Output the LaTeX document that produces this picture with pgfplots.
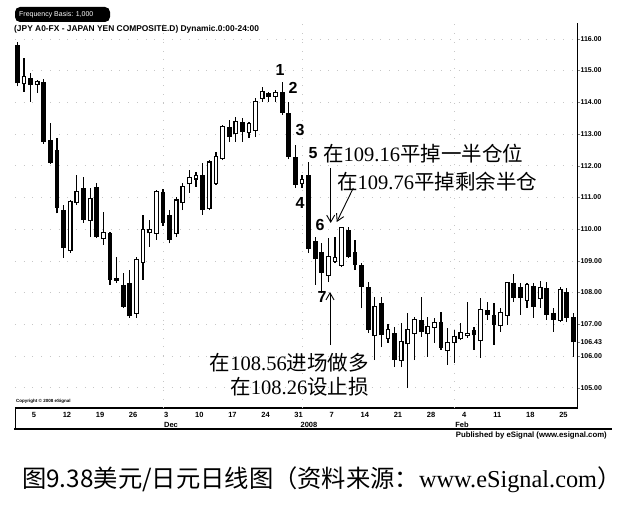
\documentclass[border=0pt]{standalone}
\usepackage{pgfplots}
\pgfplotsset{compat=1.18}
\usepackage{pgfplotstable}
\usepackage{fontspec}
\usetikzlibrary{arrows.meta}
\setmainfont{Liberation Serif}
\setsansfont{Liberation Sans}
\newfontfamily\cjk{Noto Sans CJK SC}

% daily USD/JPY candles, k = trading day (0 = 1 Nov 2007)
\pgfplotstableread{
k o h l c
0 115.80 115.90 114.50 114.60
1 114.60 115.40 114.33 114.80
2 114.77 114.93 114.01 114.55
3 114.58 114.70 114.30 114.64
4 114.64 114.74 112.70 112.75
5 112.81 113.35 112.06 112.09
6 112.50 112.88 110.50 110.67
7 110.60 110.76 109.09 109.40
8 109.34 110.92 109.25 110.86
9 110.86 111.71 110.76 111.17
10 111.30 111.65 110.20 110.29
11 110.29 111.30 109.75 110.95
12 111.33 111.46 109.72 109.75
13 109.72 110.54 109.50 109.88
14 109.88 109.90 108.24 108.40
15 108.45 109.12 108.30 108.38
16 108.24 108.62 107.51 107.55
17 108.30 108.70 107.20 107.25
18 107.36 109.12 107.20 109.03
19 108.97 110.45 108.40 109.97
20 109.90 110.30 109.45 109.98
21 109.88 111.23 109.66 111.17
22 111.17 111.25 110.10 110.20
23 110.45 110.60 109.55 109.66
24 109.88 111.00 109.75 110.90
25 110.86 111.46 110.60 111.33
26 111.45 111.87 111.14 111.62
27 111.60 111.80 111.33 111.67
28 111.70 112.10 110.45 110.60
29 110.67 112.18 110.60 112.10
30 111.46 112.44 111.40 112.28
31 112.25 113.29 112.18 113.22
32 113.22 113.44 112.75 112.90
33 113.03 113.54 112.75 113.38
34 113.38 113.50 112.75 113.06
35 113.06 113.38 112.88 113.32
36 113.13 114.14 112.90 114.01
37 114.14 114.49 114.01 114.33
38 114.30 114.33 114.01 114.17
39 114.20 114.39 114.01 114.30
40 114.33 114.64 113.60 113.67
41 113.67 114.00 112.20 112.28
42 112.28 112.65 111.30 111.40
43 111.45 111.70 111.30 111.55
44 111.70 112.12 109.25 109.38
45 109.63 109.75 108.24 109.05
46 109.28 109.56 107.99 108.62
47 108.56 109.72 108.33 109.12
48 109.00 109.75 108.93 109.09
49 108.87 110.07 108.80 110.03
50 109.97 110.07 109.10 109.12
51 109.28 109.66 108.71 108.87
52 108.87 108.93 107.50 108.18
53 108.18 108.33 106.73 106.82
54 106.66 107.86 105.87 107.55
55 107.67 107.86 106.28 106.66
56 106.57 107.00 106.41 106.82
57 106.73 106.92 105.65 105.87
58 105.87 107.04 105.65 106.44
59 106.41 107.36 104.99 106.82
60 106.73 107.23 105.87 107.14
61 107.14 107.86 106.60 106.76
62 106.73 107.23 105.97 106.92
63 106.92 107.20 106.41 107.05
64 107.07 107.39 106.19 106.25
65 106.19 106.88 105.72 106.41
66 106.44 106.82 105.78 106.60
67 106.57 107.04 106.50 106.73
68 106.65 107.70 106.57 106.70
69 106.82 106.92 106.19 106.65
70 106.50 107.83 105.94 107.45
71 107.45 107.70 107.14 107.30
72 107.30 107.67 106.35 106.98
73 106.98 107.52 106.76 107.36
74 107.30 108.33 106.98 108.30
75 108.30 108.59 107.70 107.83
76 108.18 108.30 107.30 107.83
77 107.77 108.30 107.52 108.24
78 108.20 108.30 107.20 107.55
79 107.83 108.37 107.52 108.15
80 108.15 108.33 107.14 107.30
81 107.36 107.52 106.76 107.14
82 107.14 108.18 107.07 108.08
83 108.02 108.15 107.07 107.20
84 107.23 107.36 105.97 106.43
}\candles

\begin{document}
\begin{tikzpicture}
\useasboundingbox (0pt,0pt) rectangle (630pt,507pt);

% header
\fill[black, rounded corners=5pt] (15pt,485pt) rectangle (110pt,500pt);
\node[anchor=west, text=white, font=\sffamily\fontsize{7}{7}\selectfont, inner sep=0] at (19pt,492pt) {Frequency Basis: 1,000};
\node[anchor=west, font=\sffamily\bfseries\fontsize{8.4}{8.4}\selectfont, inner sep=0] at (14pt,478pt) {(JPY A0-FX - JAPAN YEN COMPOSITE.D) Dynamic.0:00-24:00};

\begin{axis}[
    at={(15pt,99pt)}, anchor=south west,
    scale only axis, width=563pt, height=385pt,
    xmin=-0.35, xmax=84.7, ymin=104.36, ymax=116.5,
    axis x line*=bottom, axis y line*=right,
    axis line style={-},
    x axis line style={line width=1.8pt},
    y axis line style={line width=1pt},
    xtick={2.5,7.5,...,82.5},
    xticklabels={5,12,19,26,3,10,17,24,31,7,14,21,28,4,11,18,25},
    x tick label style={font=\sffamily\bfseries\fontsize{7.5}{7.5}\selectfont, yshift=1pt},
    x tick style={draw=none},
    extra x ticks={22,43,66},
    extra x tick labels={},
    extra x tick style={grid=major, major tick length=0pt},
    ytick={105,106,...,116},
    extra y ticks={106.43},
    extra y tick style={grid=none},
    ymajorgrids=true,
    grid style={gray!45, line width=0.5pt, dash pattern=on 0.7pt off 8pt},
    y tick label style={font=\sffamily\bfseries\fontsize{7}{7}\selectfont, anchor=west, xshift=-3pt},
    /pgf/number format/.cd, fixed, fixed zerofill, precision=2, assume math mode=true,
    /pgfplots/.cd,
    tick align=outside, major tick length=2pt,
    clip=false,
]
% wicks
\addplot[draw=none, mark=none,
    error bars/.cd, y dir=plus, y explicit, error mark=none,
    error bar style={draw=black, line width=1.2pt}]
    table[x=k, y=l, y error expr=\thisrow{h}-\thisrow{l}] {\candles};
% falling bodies
\addplot[draw=none, mark=none,
    restrict expr to domain={\thisrow{c}-\thisrow{o}}{-100:-0.00001},
    error bars/.cd, y dir=plus, y explicit, error mark=none,
    error bar style={draw=black, line width=4.8pt}]
    table[x=k, y=c, y error expr=\thisrow{o}-\thisrow{c}] {\candles};
% rising bodies: outline then white fill
\addplot[draw=none, mark=none,
    restrict expr to domain={\thisrow{c}-\thisrow{o}}{0:100},
    error bars/.cd, y dir=plus, y explicit, error mark=none,
    error bar style={draw=black, line width=4.8pt}]
    table[x=k, y expr=\thisrow{o}-0.035, y error expr=\thisrow{c}-\thisrow{o}+0.07] {\candles};
\addplot[draw=none, mark=none,
    restrict expr to domain={\thisrow{c}-\thisrow{o}}{0:100},
    error bars/.cd, y dir=plus, y explicit, error mark=none,
    error bar style={draw=white, line width=2.4pt}]
    table[x=k, y=o, y error expr=\thisrow{c}-\thisrow{o}] {\candles};
\end{axis}

% date box
\draw[line width=1.6pt] (14pt,78pt) -- (612pt,78pt);
\draw[line width=0.8pt] (15pt,78pt) -- (15pt,99pt);
\node[font=\sffamily\bfseries\fontsize{7.5}{7.5}\selectfont, inner sep=0] at (171pt,82pt) {Dec};
\node[font=\sffamily\bfseries\fontsize{7.5}{7.5}\selectfont, inner sep=0] at (309pt,82pt) {2008};
\node[font=\sffamily\bfseries\fontsize{7.5}{7.5}\selectfont, inner sep=0] at (462pt,82pt) {Feb};
\node[anchor=west, font=\sffamily\bfseries\fontsize{4.5}{4.5}\selectfont, inner sep=0] at (16pt,106pt) {Copyright \textcopyright{} 2008 eSignal};
\node[anchor=east, font=\sffamily\bfseries\fontsize{7.8}{7.8}\selectfont, inner sep=0] at (607pt,71pt) {Published by eSignal (www.esignal.com)};

% wave labels
\begin{scope}[font=\sffamily\bfseries\fontsize{16}{16}\selectfont, inner sep=0]
\node at (280pt,437pt) {1};
\node at (293pt,419pt) {2};
\node at (300pt,377pt) {3};
\node at (300pt,304pt) {4};
\node at (313pt,354pt) {5};
\node at (320pt,282pt) {6};
\node at (322pt,210pt) {7};
\end{scope}

% trade notes
\begin{scope}[font=\fontsize{20.5}{20.5}\selectfont, inner sep=0]
\node[anchor=west] at (323pt,353pt) {{\cjk 在}109.16{\cjk 平掉一半仓位}};
\node[anchor=west] at (337pt,325pt) {{\cjk 在}109.76{\cjk 平掉剩余半仓}};
\node[anchor=east] at (369pt,144pt) {{\cjk 在}108.56{\cjk 进场做多}};
\node[anchor=east] at (369pt,120pt) {{\cjk 在}108.26{\cjk 设止损}};
\end{scope}
\draw[line width=0.9pt, -{Straight Barb[length=7pt, width=8pt]}] (330.7pt,339pt) -- (330.7pt,284pt);
\draw[line width=0.9pt, -{Straight Barb[length=7pt, width=8pt]}] (353.3pt,319pt) -- (336.7pt,285pt);
\draw[line width=0.9pt, -{Straight Barb[length=7pt, width=8pt]}] (330pt,162pt) -- (330pt,215pt);

% caption
\node[anchor=west, inner sep=0, font=\fontsize{24.3}{24.3}\selectfont] at (22pt,27pt)
  {{\cjk 图9.38美元/日元日线图（资料来源：}www.eSignal.com{\cjk ）}};
\end{tikzpicture}
\end{document}
